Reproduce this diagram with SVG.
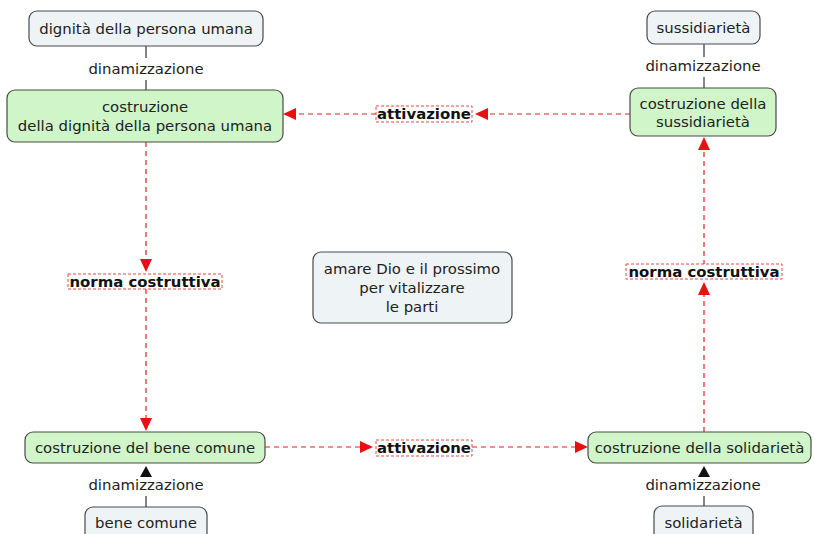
<svg xmlns="http://www.w3.org/2000/svg" width="814" height="534" viewBox="0 0 814 534">
<style>
text{font-family:"DejaVu Sans",Verdana,sans-serif;font-size:14.9px;fill:#222;text-anchor:middle}
.b{font-weight:bold;fill:#111}
.g{fill:#d0f5c8;stroke:#4a4a4a;stroke-width:1.2}
.n{fill:#eef3f5;stroke:#4a4a4a;stroke-width:1.2}
.lab{fill:#fff;stroke:#e04848;stroke-width:1;stroke-dasharray:3 2}
.d{stroke:#e02020;stroke-width:1.2;stroke-dasharray:5 4;fill:none}
.s{stroke:#333;stroke-width:1.2;fill:none}
.ah{fill:#e81010}
</style>
<rect width="814" height="534" fill="#fff"/>
<g id="connectors">
<line class="s" x1="146" y1="46" x2="146" y2="58"/>
<line class="s" x1="146" y1="80" x2="146" y2="90"/>
<line class="s" x1="704" y1="44" x2="704" y2="57"/>
<line class="s" x1="704" y1="77" x2="704" y2="88"/>
<line class="s" x1="146" y1="496" x2="146" y2="507"/>
<line class="s" x1="704" y1="496" x2="704" y2="506"/>
<polygon points="146,466 140,477 152,477" fill="#111"/>
<polygon points="704,466 698,477 710,477" fill="#111"/>
<line class="d" x1="630" y1="114" x2="488" y2="114"/>
<polygon class="ah" points="475,114 488,108 488,120"/>
<line class="d" x1="376" y1="114" x2="295" y2="114"/>
<polygon class="ah" points="283,114 296,108 296,120"/>
<line class="d" x1="146" y1="142" x2="146" y2="259"/>
<polygon class="ah" points="146,272 140,259 152,259"/>
<line class="d" x1="146" y1="289" x2="146" y2="420"/>
<polygon class="ah" points="146,431 140,418 152,418"/>
<line class="d" x1="265" y1="447" x2="360" y2="447"/>
<polygon class="ah" points="373,447 360,441 360,453"/>
<line class="d" x1="472" y1="447" x2="575" y2="447"/>
<polygon class="ah" points="588,447 575,441 575,453"/>
<line class="d" x1="704" y1="432" x2="704" y2="295"/>
<polygon class="ah" points="704,282 698,295 710,295"/>
<line class="d" x1="704" y1="265" x2="704" y2="150"/>
<polygon class="ah" points="704,137 698,150 710,150"/>
</g>
<g id="lab-dinam1"><text x="146" y="74">dinamizzazione</text></g>
<g id="lab-dinam2"><text x="703" y="71">dinamizzazione</text></g>
<g id="lab-dinam3"><text x="146" y="490">dinamizzazione</text></g>
<g id="lab-dinam4"><text x="703" y="490">dinamizzazione</text></g>
<g id="lab-attiv1"><rect class="lab" x="376" y="106" width="96" height="16"/><text class="b" x="424" y="119">attivazione</text></g>
<g id="lab-attiv2"><rect class="lab" x="376" y="440" width="96" height="16"/><text class="b" x="424" y="453">attivazione</text></g>
<g id="lab-norma1"><rect class="lab" x="68" y="274" width="154" height="15"/><text class="b" x="145" y="287">norma costruttiva</text></g>
<g id="lab-norma2"><rect class="lab" x="626" y="264" width="156" height="15"/><text class="b" x="704" y="277">norma costruttiva</text></g>
<g id="n-dignita"><rect class="n" x="29" y="11" width="234" height="35" rx="8"/><text x="146" y="34">dignità della persona umana</text></g>
<g id="n-costr-dignita"><rect class="g" x="7" y="90" width="276" height="52" rx="8"/><text x="145" y="112">costruzione</text><text x="145" y="131">della dignità della persona umana</text></g>
<g id="n-sussidiarieta"><rect class="n" x="647" y="11" width="113" height="33" rx="8"/><text x="703.5" y="33">sussidiarietà</text></g>
<g id="n-costr-sussidiarieta"><rect class="g" x="630" y="88" width="146" height="48" rx="8"/><text x="703" y="109">costruzione della</text><text x="703" y="127">sussidiarietà</text></g>
<g id="n-centro"><rect class="n" x="313" y="252" width="199" height="71" rx="8"/><text x="412" y="274">amare Dio e il prossimo</text><text x="412" y="293">per vitalizzare</text><text x="412" y="312">le parti</text></g>
<g id="n-costr-bene"><rect class="g" x="25" y="432" width="240" height="31" rx="8"/><text x="145" y="453">costruzione del bene comune</text></g>
<g id="n-costr-solidarieta"><rect class="g" x="588" y="432" width="223" height="31" rx="8"/><text x="699.5" y="453">costruzione della solidarietà</text></g>
<g id="n-bene"><rect class="n" x="85" y="507" width="122" height="38" rx="8"/><text x="146" y="528">bene comune</text></g>
<g id="n-solidarieta"><rect class="n" x="654" y="506" width="99" height="39" rx="8"/><text x="703.5" y="528">solidarietà</text></g>
</svg>
